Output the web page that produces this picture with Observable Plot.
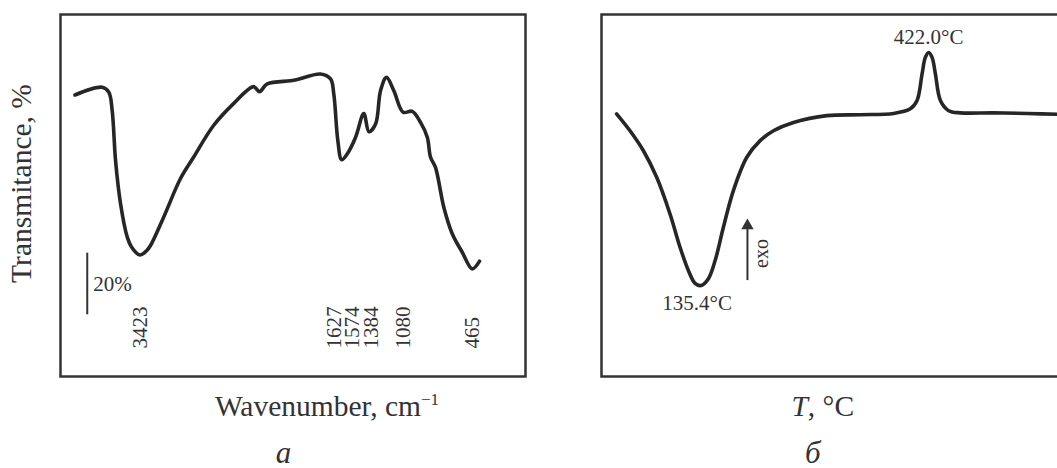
<!DOCTYPE html>
<html><head><meta charset="utf-8">
<script src="https://cdn.jsdelivr.net/npm/d3@7"></script>
<script src="https://cdn.jsdelivr.net/npm/@observablehq/plot@0.6"></script>
<style>
html,body{margin:0;padding:0;background:#fff;overflow:hidden;}
#wrap{position:relative;width:1057px;height:468px;overflow:hidden;background:#fff;}
#wrap svg{position:absolute;top:0;max-width:none !important;}
</style></head><body><div id="wrap"></div>
<script>
// ---- IR spectrum (panel a) ----
const irWavenumber = [4000, 3758, 3699, 3669, 3639, 3595, 3535, 3497, 3423, 3363, 3328, 3212, 3061, 2945, 2767, 2589, 2411, 2358, 2289, 2082, 2022, 1815, 1726, 1697, 1661, 1627, 1574, 1503, 1430, 1384, 1325, 1281, 1228, 1163, 1080, 999, 925, 865, 836, 792, 718, 643, 554, 465, 400];
const irTransmittance = [91.3, 93.8, 92.2, 86.2, 70.0, 56.1, 45.2, 42.0, 39.4, 40.8, 42.5, 51.6, 64.2, 71.1, 81.4, 88.5, 94.0, 92.4, 94.9, 95.9, 96.3, 98.1, 96.5, 91.6, 76.5, 70.3, 72.4, 77.6, 85.3, 79.4, 81.9, 92.7, 97.0, 92.7, 85.7, 86.0, 82.4, 77.6, 71.1, 67.8, 54.9, 46.3, 40.3, 34.9, 37.4];
const irPeaks = [3423, 1627, 1574, 1384, 1080, 465];
const irScaleBar = [20, 40];           // 20% transmittance bar
const irScaleBarLabel = "20%";

// ---- DSC curve (panel б) ----
const dscTemperature = [29, 45.9, 62.6, 79.5, 96.3, 108.9, 119.4, 127.8, 135.4, 144.6, 153.1, 163.5, 176.1, 193.0, 209.8, 226.6, 251.8, 293.9, 335.9, 377.9, 398.9, 407.4, 413.7, 417.8, 422.0, 426.3, 430.5, 436.8, 447.2, 462.0, 504.0, 546.1, 590];
const dscHeat = [85.2, 79.7, 73.3, 64.6, 52.7, 41.9, 34.4, 30.2, 29.5, 31.7, 37.6, 48.4, 60.3, 71.1, 76.5, 79.7, 82.4, 84.6, 84.9, 85.3, 86.8, 89.5, 98.1, 103.5, 105.1, 103.5, 98.1, 89.5, 86.2, 85.5, 85.5, 85.3, 85.0];
const dscPeakT = [135.4, 422.0];
const dscPeakKind = ["min", "max"];

// ---- layout / style ----
const ink = "#333";
const lineInk = "#262626";
const serif = "Liberation Serif, Times New Roman, serif";
const yDomain = [0, 117.4];
const xDomainL = [4129, -9];
const xDomainR = [10, 600];
const L = {width: 545, height: 468, marginLeft: 60, marginRight: 20, marginTop: 14, marginBottom: 92};
const R = {width: 540, height: 468, marginLeft: 41, marginRight: 30.5, marginTop: 14, marginBottom: 92};

const irData = irWavenumber.map((w, i) => ({w, t: irTransmittance[i]}));
const dscData = dscTemperature.map((T, i) => ({T, h: dscHeat[i]}));

// spread overlapping peak labels apart (gap in data units)
function spread(values, gap) {
  const sorted = values.slice().sort((a, b) => b - a);
  let groups = sorted.map(v => [v]);
  const pos = g => { const c = d3.mean(g); return g.map((_, k) => c + ((g.length - 1) / 2 - k) * gap); };
  let merged = true;
  while (merged) {
    merged = false;
    for (let i = 0; i < groups.length - 1; i++) {
      const a = pos(groups[i]), b = pos(groups[i + 1]);
      if (a[a.length - 1] - b[0] < gap) { groups.splice(i, 2, groups[i].concat(groups[i + 1])); merged = true; break; }
    }
  }
  const out = new Map();
  groups.forEach(g => pos(g).forEach((p, k) => out.set(g[k], p)));
  return values.map(v => out.get(v));
}
const unitsPerPx = (xDomainL[0] - xDomainL[1]) / (L.width - L.marginLeft - L.marginRight);
const labelX = spread(irPeaks, 18.2 * unitsPerPx);
const irLabels = irPeaks.map((w, i) => ({x: labelX[i], label: String(w)}));

const left = Plot.plot({
  ...L,
  style: {fontFamily: serif, background: "white"},
  x: {domain: xDomainL, axis: null},
  y: {domain: yDomain, axis: null},
  marks: [
    Plot.frame({stroke: ink, strokeWidth: 2.5}),
    Plot.line(irData, {x: "w", y: "t", curve: "catmull-rom", stroke: lineInk, strokeWidth: 3.6, strokeLinejoin: "round", strokeLinecap: "round"}),
    Plot.ruleX([3891], {y1: irScaleBar[0], y2: irScaleBar[1], stroke: ink, strokeWidth: 2}),
    Plot.text([irScaleBarLabel], {x: 3891, y: 27.6, text: d => d, dx: 6, textAnchor: "start", lineAnchor: "bottom", fontSize: 21, fill: ink}),
    Plot.text(irLabels, {x: "x", y: 9.1, text: "label", rotate: -90, textAnchor: "start", lineAnchor: "middle", fontSize: 21, fill: ink}),
    Plot.text(["Transmitance, %"], {text: d => d, frameAnchor: "left", dx: -39, dy: -12, rotate: -90, textAnchor: "middle", lineAnchor: "middle", fontSize: 29.5, fill: ink}),
    Plot.text(["Wavenumber, cm"], {text: d => d, frameAnchor: "bottom", dx: 34, dy: 39, textAnchor: "middle", lineAnchor: "bottom", fontSize: 29.5, fill: ink}),
    Plot.text(["a"], {text: d => d, frameAnchor: "bottom", dx: -9.5, dy: 86, textAnchor: "middle", lineAnchor: "bottom", fontSize: 31, fontStyle: "italic", fill: ink})
  ]
});
left.style.left = "0px";

const peakData = dscPeakT.map((T, i) => ({T, h: dscHeat[dscTemperature.indexOf(T)], kind: dscPeakKind[i], label: `${T.toFixed(1)}°C`}));

const right = Plot.plot({
  ...R,
  style: {fontFamily: serif, background: "white"},
  x: {domain: xDomainR, axis: null},
  y: {domain: yDomain, axis: null},
  marks: [
    Plot.frame({stroke: ink, strokeWidth: 2.5}),
    Plot.line(dscData, {x: "T", y: "h", curve: "catmull-rom", stroke: lineInk, strokeWidth: 3.6, strokeLinejoin: "round", strokeLinecap: "round"}),
    Plot.text(peakData.filter(d => d.kind === "max"), {x: "T", y: "h", text: "label", dy: -8, textAnchor: "middle", lineAnchor: "bottom", fontSize: 21, fill: ink}),
    Plot.text(peakData.filter(d => d.kind === "min"), {x: "T", y: "h", text: "label", dx: -4, dy: 10, textAnchor: "middle", lineAnchor: "top", fontSize: 21, fill: ink}),
    // exo arrow
    Plot.ruleX([193.8], {y1: 31.1, y2: 48.3, stroke: ink, strokeWidth: 2}),
    Plot.dot([193.8], {x: d => d, y: 48.9, symbol: "triangle", r: 4.6, fill: ink, stroke: "none"}),
    Plot.text(["exo"], {text: d => d, x: 211.9, y: 39.9, rotate: -90, textAnchor: "middle", lineAnchor: "middle", fontSize: 20, fill: ink}),
    Plot.text(["T, °C"], {text: d => d, frameAnchor: "bottom", dx: -13, dy: 39, textAnchor: "middle", lineAnchor: "bottom", fontSize: 29.5, fill: ink}),
    Plot.text(["б"], {text: d => d, frameAnchor: "bottom", dx: -23, dy: 86, textAnchor: "middle", lineAnchor: "bottom", fontSize: 31, fontStyle: "italic", fill: ink})
  ]
});
right.style.left = "560px";

const wrap = document.getElementById("wrap");
wrap.appendChild(left);
wrap.appendChild(right);

// rich text: superscript and italic symbol
d3.select(left).selectAll("text").filter(function() { return this.textContent === "Wavenumber, cm"; })
  .append("tspan").attr("font-size", 17).attr("dy", -11).text("−1");
d3.select(right).selectAll("text").filter(function() { return this.textContent === "T, °C"; })
  .each(function() {
    const t = d3.select(this);
    t.text("");
    t.append("tspan").attr("font-style", "italic").text("T");
    t.append("tspan").text(", °C");
  });
</script></body></html>
